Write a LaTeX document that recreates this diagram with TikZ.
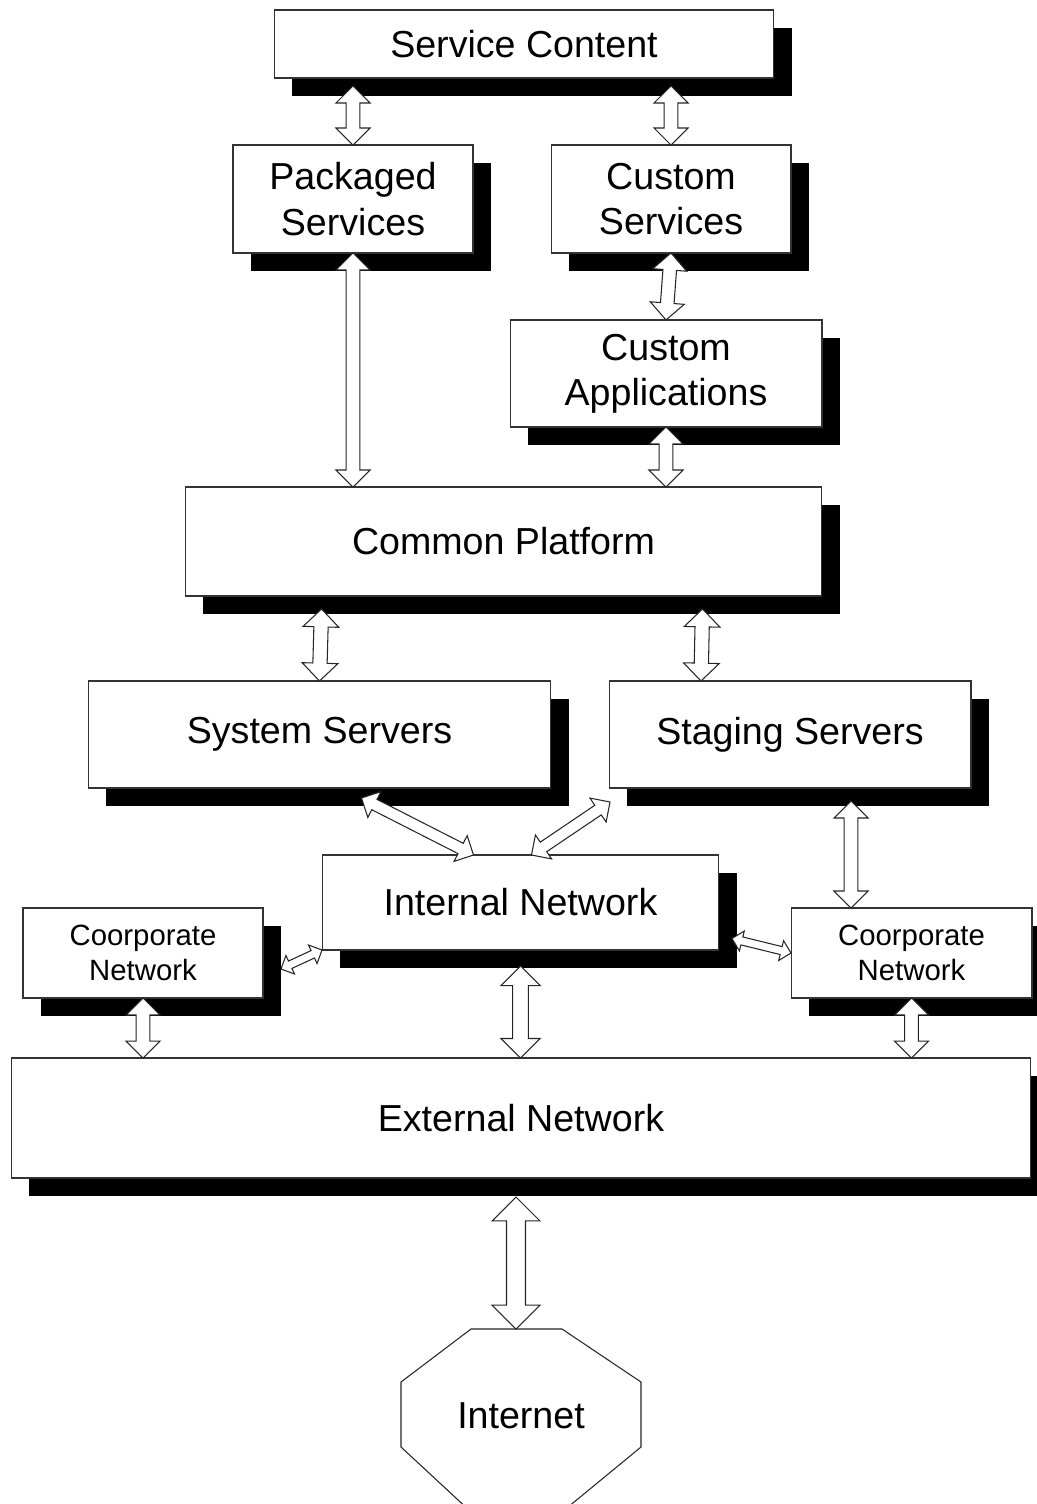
\documentclass[tikz,border=0pt]{standalone}
\usepackage{fontspec}
\setmainfont{Liberation Sans}
\usetikzlibrary{calc,shadows}

\newcommand{\boxfont}{\fontsize{21.4}{25.7}\selectfont}
\newcommand{\smallboxfont}{\fontsize{16.7}{19.6}\selectfont}

\begin{document}
\begin{tikzpicture}[x=0.02cm,y=-0.02cm]
  \tikzstyle{box}=[rectangle,draw=black!80,fill=white,line width=0.6pt,inner sep=0pt,outer sep=0pt,
    align=center,font=\boxfont,general shadow={fill=black,shadow xshift=0.36cm,shadow yshift=-0.36cm}]
  \tikzstyle{small}=[font=\smallboxfont]
  \tikzstyle{blockarrow}=[draw=black!85,fill=white,line width=0.6pt,line join=miter]

\clip (0,0) rectangle (1037,1504);

\node[box, minimum width=10cm, minimum height=1.36cm] (sc) at (524,44) {Service Content};
\node[box, minimum width=4.8cm, minimum height=2.16cm] (ps) at (353,199) {Packaged\\Services};
\node[box, minimum width=4.8cm, minimum height=2.16cm] (cs) at (671,199) {Custom\\Services};
\node[box, minimum width=6.24cm, minimum height=2.14cm] (ca) at (666,373.5) {Custom\\Applications};
\node[box, minimum width=12.74cm, minimum height=2.18cm] (cp) at (503.5,541.5) {Common Platform};
\node[box, minimum width=9.26cm, minimum height=2.14cm] (sys) at (319.5,734.5) {System Servers};
\node[box, minimum width=7.24cm, minimum height=2.14cm] (stg) at (790,734.5) {Staging Servers};
\node[box, minimum width=7.94cm, minimum height=1.9cm] (int) at (520.5,902.5) {Internal Network};
\node[box, small, minimum width=4.8cm, minimum height=1.8cm] (cl) at (143,953) {Coorporate\\Network};
\node[box, small, minimum width=4.82cm, minimum height=1.8cm] (cr) at (911.5,953) {Coorporate\\Network};
\node[box, minimum width=20.4cm, minimum height=2.4cm] (ext) at (521,1118) {External Network};

\draw[blockarrow] (471,1329) -- (562,1329) -- (641,1382) -- (641,1447) -- (562,1512)
  -- (471,1512) -- (401,1447) -- (401,1382) -- cycle;
\node[font=\boxfont] (inet) at (521,1416) {Internet};
\coordinate (inettop) at (516,1329);

\newcommand{\dblarrow}[3]{
  \coordinate (ha) at ($(#1)!#3*0.34cm!(#2)$);
  \coordinate (hb) at ($(#2)!#3*0.34cm!(#1)$);
  \draw[blockarrow] (#1) -- ($(ha)!#3*0.34cm!90:(#2)$) -- ($(ha)!#3*0.136cm!90:(#2)$)
    -- ($(hb)!#3*0.136cm!-90:(#1)$) -- ($(hb)!#3*0.34cm!-90:(#1)$) -- (#2)
    -- ($(hb)!#3*0.34cm!90:(#1)$) -- ($(hb)!#3*0.136cm!90:(#1)$)
    -- ($(ha)!#3*0.136cm!-90:(#2)$) -- ($(ha)!#3*0.34cm!-90:(#2)$) -- cycle;
}

\coordinate (a1) at ($(sc.south -| ps.north)+(0,8)$);
\coordinate (a2) at ($(sc.south -| cs.north)+(0,8)$);
\coordinate (a3) at (cp.north -| ps.south);
\coordinate (a5) at (cp.north -| ca.south);
\coordinate (a6) at ($(cp.south -| sys.north)+(2,13)$);
\coordinate (a7s) at ($(cp.south)+(199,13)$);
\coordinate (a7e) at ($(stg.north)+(-89,0)$);
\coordinate (a8s) at ($(sys.south)+(42,10)$);
\coordinate (a8e) at ($(int.north)+(-47,0)$);
\coordinate (a9s) at ($(stg.south)+(-180,14)$);
\coordinate (a9e) at ($(int.north)+(11,0)$);
\coordinate (a10s) at ($(stg.south)+(61,13)$);
\coordinate (a10e) at ($(cr.north)+(-60.5,0)$);
\coordinate (a11) at ($(cl.east)+(18,16)$);
\coordinate (a12) at ($(int.east)+(13,36)$);
\coordinate (a13) at (ext.north -| cl.south);
\coordinate (a14s) at ($(int.south)+(0,16)$);
\coordinate (a14e) at (ext.north -| int.south);
\coordinate (a15) at (ext.north -| cr.south);
\coordinate (a16) at ($(ext.south)+(-5,19)$);

\foreach \s/\e/\f in {a1/ps.north/1, a2/cs.north/1, ps.south/a3/1, cs.south/ca.north/1,
  ca.south/a5/1, a6/sys.north/1.05, a7s/a7e/1.05, a8s/a8e/0.85, a9s/a9e/0.85,
  a10s/a10e/1, int.south west/a11/0.6, a12/cr.west/0.6, cl.south/a13/1,
  a14s/a14e/1.15, cr.south/a15/1, a16/inettop/1.4} {
  \dblarrow{\s}{\e}{\f}
}

\end{tikzpicture}
\end{document}
